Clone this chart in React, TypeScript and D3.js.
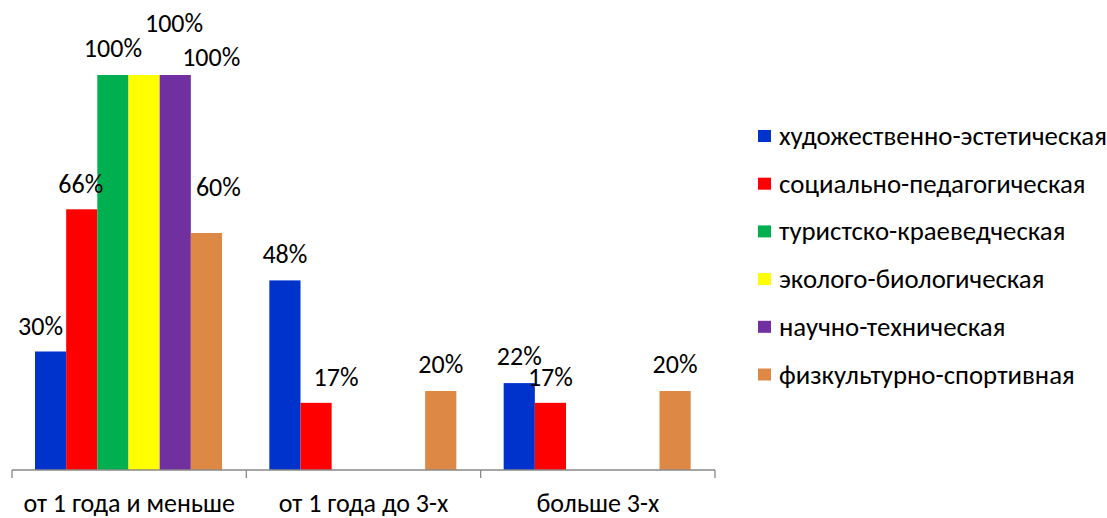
import React from "react";
import * as d3 from "d3";

const categories = ["от 1 года и меньше", "от 1 года до 3-х", "больше 3-х"];
const seriesNames = [
  "художественно-эстетическая",
  "социально-педагогическая",
  "туристско-краеведческая",
  "эколого-биологическая",
  "научно-техническая",
  "физкультурно-спортивная",
];
const colors = ["#0033CC", "#FF0000", "#00B050", "#FFFF00", "#7030A0", "#DD8844"];
// values per series across categories (null = no bar)
const values: (number | null)[][] = [
  [30, 48, 22],
  [66, 17, 17],
  [100, null, null],
  [100, null, null],
  [100, null, null],
  [60, 20, 20],
];
// label offsets (dx, dy) to mimic the reference label placement
const labelOffsets: [number, number][][] = [
  [[-10, -17], [0, -17], [0, -18]],
  [[-1, -16], [20, -17], [0, -17]],
  [[0, -18], [0, 0], [0, 0]],
  [[30, -43], [0, 0], [0, 0]],
  [[36, -9], [0, 0], [0, 0]],
  [[12, -37], [0, -18], [0, -18]],
];

const W = 1107, H = 518;
const left = 12, right = 715, axisY = 470, topY = 75;

export default function App() {
  const x0 = d3.scaleBand().domain(categories).range([left, right]).paddingInner(0).paddingOuter(0);
  const x1 = d3.scaleBand().domain(seriesNames).range([23, 23 + 187]);
  const y = d3.scaleLinear().domain([0, 100]).range([axisY, topY]);
  const font = "Carlito, Calibri, Lato, 'Open Sans', sans-serif";
  return (
    <svg width={W} height={H} style={{ position: "absolute", left: 0, top: 0 }} fontFamily={font}>
      <rect width={W} height={H} fill="#fff" />
      {seriesNames.map((s, si) =>
        values[si].map((v, ci) => {
          if (v == null) return null;
          const bx = (x0(categories[ci]) as number) + (x1(s) as number);
          return (
            <rect key={s + ci} x={bx} y={y(v)} width={x1.bandwidth()} height={axisY - y(v)} fill={colors[si]} />
          );
        })
      )}
      {seriesNames.map((s, si) =>
        values[si].map((v, ci) => {
          if (v == null) return null;
          const bx = (x0(categories[ci]) as number) + (x1(s) as number) + x1.bandwidth() / 2;
          const [dx, dy] = labelOffsets[si][ci];
          return (
            <text key={"l" + s + ci} x={bx + dx} y={y(v) + dy} textAnchor="middle" fontSize={26} fill="#000">
              {v}%
            </text>
          );
        })
      )}
      <line x1={left} x2={right} y1={axisY} y2={axisY} stroke="#888" strokeWidth={1.3} />
      {[...categories.map((c) => x0(c) as number), right].map((t, i) => (
        <line key={"t" + i} x1={t} x2={t} y1={axisY} y2={axisY + 8} stroke="#888" strokeWidth={1.3} />
      ))}
      {categories.map((c) => (
        <text key={c} x={(x0(c) as number) + x0.bandwidth() / 2} y={512} textAnchor="middle" fontSize={26} fill="#000">
          {c}
        </text>
      ))}
      {seriesNames.map((s, si) => {
        const cy = 136 + si * 47.7;
        return (
          <g key={"lg" + s}>
            <rect x={758} y={cy - 6} width={13} height={12} fill={colors[si]} />
            <text x={779} y={cy + 9} fontSize={26.8} fill="#000">{s}</text>
          </g>
        );
      })}
    </svg>
  );
}
